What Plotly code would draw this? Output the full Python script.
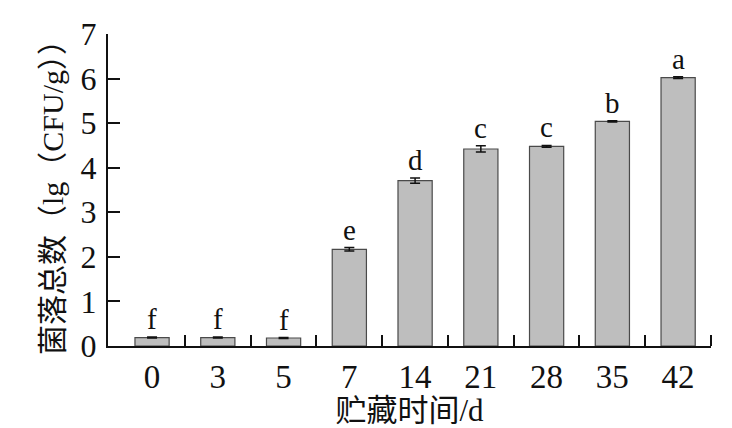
import plotly.graph_objects as go

days = ["0", "3", "5", "7", "14", "21", "28", "35", "42"]
counts = [0.19, 0.19, 0.18, 2.17, 3.71, 4.42, 4.48, 5.04, 6.02]
errors = [0.01, 0.01, 0.01, 0.04, 0.06, 0.07, 0.02, 0.015, 0.02]
letters = ["f", "f", "f", "e", "d", "c", "c", "b", "a"]
y_ticks = [0, 1, 2, 3, 4, 5, 6, 7]

FONT = "Liberation Serif, Times New Roman, Noto Sans CJK SC, serif"
xs = list(range(len(days)))

fig = go.Figure()
fig.add_trace(go.Bar(
    x=xs, y=counts, width=0.52,
    marker=dict(color="#bebebe", line=dict(color="#4a4a4a", width=1.2)),
    error_y=dict(type="data", array=errors, visible=True, color="#111111",
                 thickness=1.5, width=5),
    showlegend=False,
))

for xi, v, e, t in zip(xs, counts, errors, letters):
    fig.add_annotation(x=xi, y=v + e, text=t, showarrow=False, yanchor="bottom",
                       yshift=0, font=dict(family=FONT, size=29, color="#111111"))

fig.update_layout(
    width=732, height=428,
    margin=dict(l=108, r=21, t=34, b=82),
    paper_bgcolor="white", plot_bgcolor="white",
    font=dict(family=FONT, color="#111111"),
    bargap=0.48,
)
fig.update_xaxes(
    range=[-0.67, 8.5], automargin=False,
    tickmode="array", tickvals=xs, ticktext=days, ticks="",
    tickfont=dict(family=FONT, size=33, color="#111111"),
    showline=True, linecolor="#111111", linewidth=2,
    showgrid=False, zeroline=False,
    minor=dict(tickmode="array", tickvals=[i + 0.5 for i in xs], ticks="inside",
               ticklen=11, tickwidth=2, tickcolor="#111111", showgrid=False),
    title=dict(text="贮藏时间/d", font=dict(family=FONT, size=31, color="#111111"),
               standoff=2),
)
fig.update_yaxes(
    range=[0, 7], automargin=False,
    tickmode="array", tickvals=y_ticks,
    ticks="inside", ticklen=12, tickwidth=2, tickcolor="#111111",
    tickfont=dict(family=FONT, size=32, color="#111111"),
    ticklabelstandoff=3,
    showline=True, linecolor="#111111", linewidth=2,
    showgrid=False, zeroline=False,
    title=dict(text="菌落总数（lg（CFU/g））", font=dict(family=FONT, size=30, color="#111111"),
               standoff=8),
)

POST = ("document.body.style.margin='0';document.body.style.padding='0';"
        "var gd=document.getElementById('{plot_id}');"
        "Plotly.relayout(gd,{width:732,height:428});")

fig.write_html("out.html", config={"responsive": False, "displayModeBar": False},
               post_script=POST)
